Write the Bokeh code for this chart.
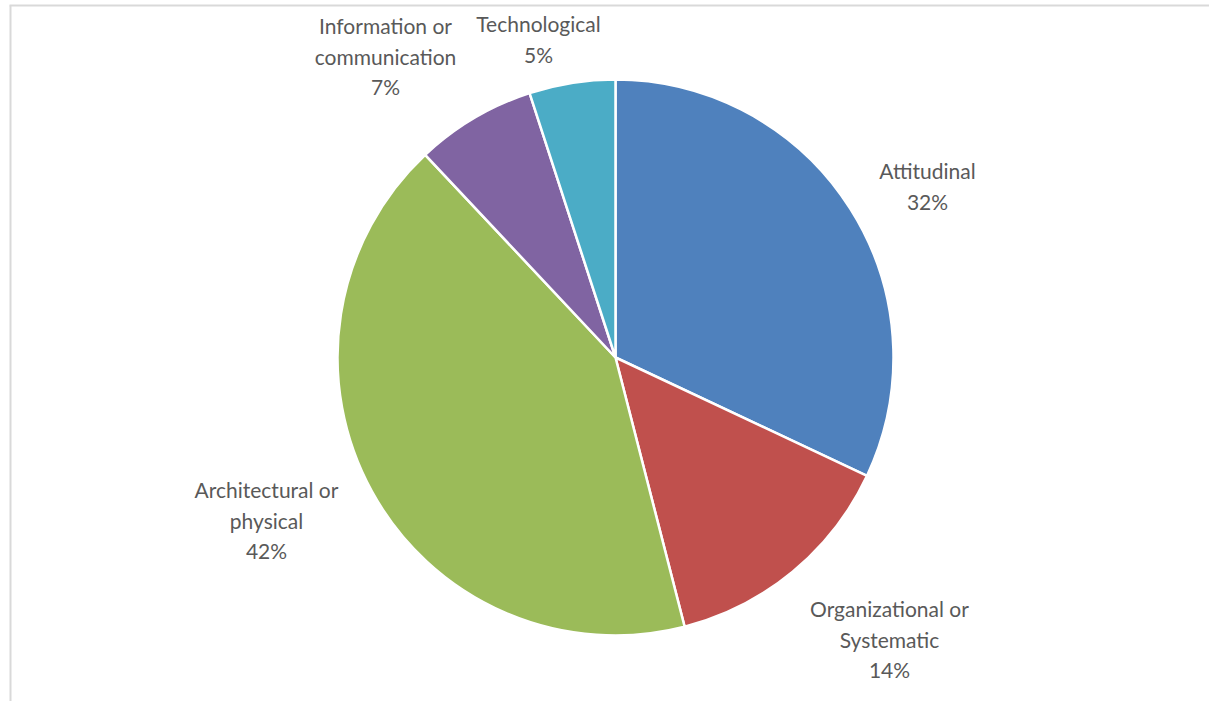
import numpy as np
from bokeh.plotting import figure
from bokeh.models import Range1d, ColumnDataSource
from bokeh.embed import file_html
from bokeh.resources import INLINE
from bokeh.core.properties import value

# ---- data ----
categories = ["Attitudinal", "Organizational or Systematic", "Architectural or physical",
              "Information or communication", "Technological"]
label_lines = [["Attitudinal"], ["Organizational or", "Systematic"], ["Architectural or", "physical"],
               ["Information or", "communication"], ["Technological"]]
values = [32, 14, 42, 7, 5]
colors = ["#4F81BD", "#C0504D", "#9BBB59", "#8064A2", "#4BACC6"]

# ---- layout (y up, in pixels) ----
W, H = 1209, 701
CX, CY, R = 615, 701 - 357, 278
label_anchor = [(927, 701 - 170), (889, 701 - 608), (266, 701 - 489),
                (385, 701 - 25), (538, 701 - 23)]  # center of first text line
LINE_H = 30.5

p = figure(width=W, height=H, x_range=Range1d(0, W), y_range=Range1d(0, H),
           output_backend="svg", toolbar_location=None, min_border=0,
           x_axis_type=None, y_axis_type=None)
p.grid.visible = False
p.outline_line_color = None
p.background_fill_color = "white"
p.border_fill_color = "white"

# frame lines (top and left)
p.segment(x0=[9, 10], y0=[H - 5, H - 5], x1=[W, 10], y1=[H - 5, 0], line_color="#D9D9D9", line_width=2)

total = float(sum(values))
frac = np.array(values) / total
cum = np.concatenate([[0], np.cumsum(frac)])
start = np.pi / 2 - 2 * np.pi * cum[:-1]
end = np.pi / 2 - 2 * np.pi * cum[1:]
src = ColumnDataSource(dict(start=start, end=end, color=colors, cat=categories))
p.wedge(x=CX, y=CY, radius=R, start_angle="start", end_angle="end", direction="clock",
        fill_color="color", line_color="white", line_width=2.5, source=src)

tx, ty, tt = [], [], []
for lines, v, (ax, ay) in zip(label_lines, values, label_anchor):
    for i, t in enumerate(lines + [f"{round(v / total * 100)}%"]):
        tx.append(ax)
        ty.append(ay - i * LINE_H)
        tt.append(t)
p.text(x=tx, y=ty, text=tt, text_align="center", text_baseline="middle",
       text_font=value("Lato"), text_font_size="21px", text_color="#595959")

open("out.html", "w").write(file_html(p, INLINE))
